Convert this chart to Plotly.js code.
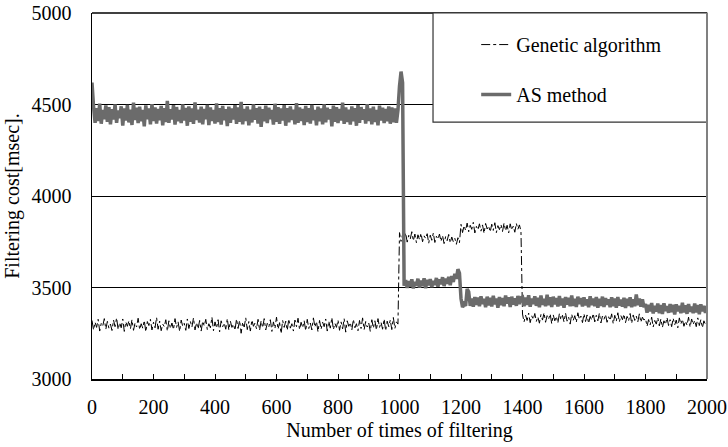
<!DOCTYPE html>
<html>
<head>
<meta charset="utf-8">
<script src="https://cdn.plot.ly/plotly-3.0.1.min.js"></script>
<style>html,body{margin:0;padding:0;background:#fff;}#chart{width:728px;height:447px;}</style>
</head>
<body>
<div id="chart"></div>
<script>
// x positions: number of times of filtering, sampled every 5
const xStep = 5;
const seriesNames = ["Genetic algorithm", "AS method"];
const xTickLabels = ["0","200","400","600","800","1000","1200","1400","1600","1800","2000"];
const yTickLabels = ["3000","3500","4000","4500","5000"];

// Genetic algorithm filtering cost [msec]
const geneticCost = [
// 0 - 995
3320,3268,3310,3282,3326,3262,3304,3290,3330,3272,
3315,3278,3300,3265,3322,3286,3334,3270,3308,3280,
3328,3260,3312,3288,3318,3274,3324,3266,3306,3284,
3332,3270,3302,3278,3320,3258,3314,3292,3326,3268,
3310,3280,3336,3272,3316,3264,3300,3286,3324,3262,
3318,3276,3306,3270,3330,3282,3312,3260,3322,3288,
3304,3266,3328,3276,3314,3284,3334,3268,3308,3274,
3320,3262,3316,3290,3326,3270,3302,3280,3338,3264,
3312,3278,3324,3258,3318,3286,3306,3272,3330,3268,
3316,3282,3300,3266,3328,3276,3320,3250,3310,3284,
3334,3270,3314,3262,3322,3288,3306,3274,3326,3266,
3318,3280,3330,3268,3304,3284,3324,3260,3312,3276,
3338,3272,3308,3248,3320,3282,3316,3266,3328,3278,
3302,3262,3322,3286,3332,3270,3310,3280,3318,3264,
3326,3276,3306,3268,3334,3284,3314,3258,3320,3272,
3310,3286,3328,3262,3316,3278,3336,3270,3304,3282,
3322,3266,3312,3274,3330,3256,3318,3288,3308,3268,
3326,3280,3302,3264,3320,3276,3334,3270,3314,3284,
3306,3260,3324,3278,3318,3268,3330,3282,3310,3272,
3328,3264,3316,3286,3322,3270,3336,3276,3312,3300,
// 1000 - 1195
3800,3752,3790,3760,3798,3748,3785,3765,3805,3755,
3792,3745,3788,3762,3796,3750,3782,3768,3794,3742,
3786,3758,3798,3746,3780,3764,3792,3752,3784,3740,
3778,3756,3790,3744,3776,3750,3768,3736,3772,3745,
// 1200 - 1395
3845,3800,3838,3812,3852,3805,3840,3818,3856,3798,
3834,3815,3848,3808,3842,3796,3850,3820,3836,3804,
3846,3812,3854,3800,3838,3816,3844,3806,3852,3810,
3840,3798,3848,3814,3836,3802,3850,3818,3842,3808,
// 1400 - 1795
3355,3312,3348,3320,3360,3308,3345,3325,3358,3315,
3340,3305,3352,3322,3362,3310,3346,3328,3356,3302,
3350,3318,3342,3306,3358,3324,3348,3312,3360,3316,
3338,3300,3354,3320,3346,3310,3362,3326,3344,3308,
3356,3314,3350,3304,3342,3322,3358,3312,3348,3318,
3360,3306,3344,3326,3352,3310,3340,3320,3356,3302,
3348,3316,3362,3312,3346,3324,3354,3308,3342,3318,
3358,3304,3350,3320,3344,3312,3356,3310,3338,3322,
// 1800 - 2000
3330,3288,3325,3295,3338,3284,3320,3300,3335,3290,
3328,3282,3318,3298,3336,3292,3324,3286,3332,3296,
3322,3280,3334,3300,3326,3288,3316,3294,3338,3284,
3328,3298,3320,3286,3334,3292,3324,3280,3318,3296,3312
];

// AS method filtering cost [msec]
const asCost = [
4620,
4490,4400,4480,4410,4505,4395,4470,4420,4495,
4405,4485,4392,4475,4418,4500,4400,4468,4425,4490,
4385,4478,4412,4498,4402,4472,4388,4510,4415,4482,
4398,4488,4408,4470,4380,4495,4420,4478,4392,4502,
4410,4484,4396,4476,4414,4492,4386,4480,4404,4520,
4400,4474,4418,4496,4390,4486,4408,4470,4398,4500,
4412,4482,4384,4490,4406,4478,4394,4512,4416,4472,
4402,4488,4392,4476,4420,4498,4388,4484,4410,4470,
4396,4506,4404,4480,4390,4492,4414,4474,4382,4488,
4400,4478,4418,4496,4394,4484,4406,4515,4392,4476,
4410,4490,4386,4472,4402,4500,4416,4480,4396,4488,
4378,4474,4408,4494,4398,4482,4420,4470,4390,4504,
4406,4486,4394,4478,4412,4496,4384,4480,4402,4490,
4416,4472,4392,4508,4400,4484,4410,4476,4388,4492,
4404,4480,4396,4498,4414,4470,4386,4488,4408,4478,
4392,4500,4402,4482,4418,4474,4380,4494,4406,4486,
4398,4476,4412,4510,4394,4484,4404,4472,4390,4490,
4408,4480,4384,4496,4400,4486,4416,4474,4396,4502,
4410,4478,4392,4488,4404,4470,4386,4494,4412,4482,
4398,4476,4408,4490,4395,4484,4402,4478,4400,4470,
// 1000 - 1015
4600,4680,4620,3510,
// 1020 - 1195
3540,3498,3535,3505,3545,3495,3530,3510,3548,3500,
3538,3508,3550,3496,3542,3512,3546,3502,3536,3515,
3552,3505,3544,3518,3556,3508,3548,3520,3558,3512,
3562,3530,3575,3548,3600,3578,
// 1200 - 1395
3440,3392,3410,3400,3492,3476,3400,3440,3395,3448,
3405,3445,3398,3452,3410,3438,3392,3450,3402,3444,
3396,3455,3408,3440,3390,3448,3404,3442,3398,3456,
3412,3446,3394,3450,3406,3440,3400,3454,3410,3444,
// 1400 - 1795
3448,3398,3445,3405,3458,3395,3440,3410,3452,3400,
3444,3392,3456,3406,3438,3398,3460,3404,3446,3394,
3450,3408,3442,3396,3454,3402,3440,3390,3448,3406,
3444,3398,3456,3400,3438,3394,3450,3410,3442,3396,
3446,3402,3436,3392,3452,3404,3440,3398,3448,3390,
3438,3400,3450,3394,3442,3406,3436,3392,3446,3398,
3440,3390,3448,3402,3434,3396,3444,3388,3438,3400,
3446,3392,3436,3398,3462,3404,3440,3395,3436,3392,
// 1800 - 2000
3410,3362,3405,3370,3415,3358,3400,3368,3412,3360,
3404,3355,3414,3372,3398,3362,3410,3366,3406,3352,
3408,3370,3400,3360,3416,3364,3402,3356,3410,3368,
3396,3360,3412,3364,3404,3354,3408,3370,3400,3362,3398
];

const xGen = geneticCost.map((_, i) => i * xStep);
const xAs = asCost.map((_, i) => i * xStep);

const serif = "Liberation Serif";
const fontSize = 20;

const traces = [
  {
    x: xGen, y: geneticCost, type: "scatter", mode: "lines",
    name: seriesNames[0], legendgroup: "g",
    line: {color: "#000000", width: 1, dash: "dashdot", simplify: false}
  },
  {
    x: xAs, y: asCost, type: "scatter", mode: "lines",
    name: seriesNames[1], legendgroup: "a",
    line: {color: "#6b6b6b", width: 3.5, simplify: false}
  }
];

const layout = {
  width: 728, height: 447,
  margin: {l: 92, r: 21, t: 13, b: 68},
  paper_bgcolor: "#ffffff", plot_bgcolor: "#ffffff",
  font: {family: serif, size: fontSize, color: "#000"},
  showlegend: true,
  legend: {
    x: 0.6247, xanchor: "left", y: 0.967, yanchor: "top",
    bgcolor: "rgba(0,0,0,0)", borderwidth: 0,
    traceorder: "grouped", tracegroupgap: 21,
    font: {family: serif, size: fontSize, color: "#000"}
  },
  xaxis: {
    range: [0, 2000], tickmode: "array",
    tickvals: xTickLabels.map(Number), ticktext: xTickLabels,
    ticks: "inside", ticklen: 5, tickcolor: "#000", tickwidth: 1,
    minor: {dtick: 100, tick0: 0, ticks: "inside", ticklen: 5, tickcolor: "#000", showgrid: false},
    showline: true, linecolor: "#000", linewidth: 1.5,
    showgrid: false, zeroline: false,
    ticklabelstandoff: 9,
    tickfont: {family: serif, size: fontSize, color: "#000"},
    title: {text: "Number of times of filtering", font: {family: serif, size: fontSize, color: "#000"}, standoff: 6}
  },
  yaxis: {
    range: [3000, 5000], tickmode: "array",
    tickvals: yTickLabels.map(Number), ticktext: yTickLabels,
    ticks: "", showline: true, linecolor: "#000", linewidth: 1.5,
    showgrid: true, gridcolor: "#000", gridwidth: 1, zeroline: false,
    ticklabelstandoff: 15,
    tickfont: {family: serif, size: fontSize, color: "#000"},
    title: {text: "Filtering cost[msec].", font: {family: serif, size: fontSize, color: "#000"}, standoff: 6}
  },
  shapes: [
    {type: "line", xref: "paper", yref: "paper", x0: 0, x1: 1, y0: 1, y1: 1, line: {color: "#000", width: 1.5}},
    {type: "rect", xref: "paper", yref: "paper", x0: 0.5545, x1: 1, y0: 0.702, y1: 1,
     fillcolor: "#ffffff", line: {color: "#333", width: 1.2}, layer: "above"},
    {type: "line", xref: "paper", yref: "paper", x0: 1, x1: 1, y0: 0, y1: 1, line: {color: "#808080", width: 2}}
  ]
};

Plotly.newPlot("chart", traces, layout, {displayModeBar: false, staticPlot: true});
</script>
</body>
</html>
